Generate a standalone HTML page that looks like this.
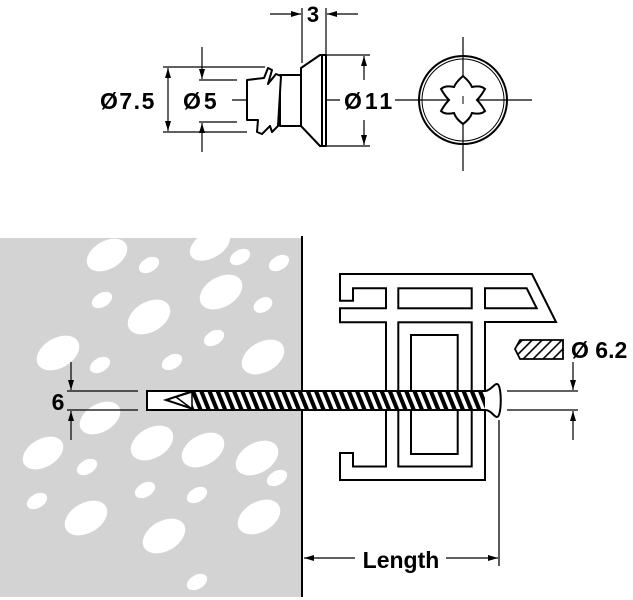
<!DOCTYPE html>
<html><head><meta charset="utf-8"><style>
html,body{margin:0;padding:0;background:#fff;}
svg{display:block;}
text{font-family:"Liberation Sans",Arial,sans-serif;font-weight:bold;fill:#000;}
</style></head><body>
<svg width="633" height="600" viewBox="0 0 633 600" xmlns="http://www.w3.org/2000/svg">
<defs>
<marker id="a" viewBox="0 0 10 6" refX="10" refY="3" markerWidth="10" markerHeight="6" orient="auto" markerUnits="userSpaceOnUse"><path d="M0,0 L10,3 L0,6 Z" fill="#000"/></marker>
<pattern id="th" width="8.2" height="20" patternUnits="userSpaceOnUse" patternTransform="skewX(22)">
<rect width="8.2" height="20" fill="#fff"/><rect x="0" width="4.4" height="20" fill="#000"/></pattern>
<pattern id="h2" width="7" height="7" patternUnits="userSpaceOnUse" patternTransform="rotate(45)">
<rect width="7" height="7" fill="#fff"/><rect width="1.6" height="7" fill="#000"/></pattern>
<clipPath id="wall"><rect x="0" y="238" width="302" height="359"/></clipPath>
</defs>

<rect x="0" y="238" width="302" height="359" fill="#d3d3d3"/>
<g fill="#fff" clip-path="url(#wall)">
<ellipse cx="107" cy="255" rx="22" ry="14" transform="rotate(-30 107 255)"/>
<ellipse cx="149" cy="265" rx="11" ry="7" transform="rotate(-30 149 265)"/>
<ellipse cx="210" cy="245" rx="22" ry="13" transform="rotate(-30 210 245)"/>
<ellipse cx="240" cy="257" rx="11" ry="7" transform="rotate(-30 240 257)"/>
<ellipse cx="279" cy="263" rx="11" ry="7" transform="rotate(-30 279 263)"/>
<ellipse cx="102" cy="300" rx="11" ry="7" transform="rotate(-30 102 300)"/>
<ellipse cx="149" cy="317" rx="23" ry="15" transform="rotate(-30 149 317)"/>
<ellipse cx="221" cy="292" rx="23" ry="15" transform="rotate(-30 221 292)"/>
<ellipse cx="263" cy="305" rx="10" ry="7" transform="rotate(-30 263 305)"/>
<ellipse cx="58" cy="353" rx="23" ry="15" transform="rotate(-30 58 353)"/>
<ellipse cx="100" cy="365" rx="11" ry="7" transform="rotate(-30 100 365)"/>
<ellipse cx="172" cy="362" rx="11" ry="7" transform="rotate(-30 172 362)"/>
<ellipse cx="214" cy="338" rx="11" ry="7" transform="rotate(-30 214 338)"/>
<ellipse cx="263" cy="357" rx="23" ry="15" transform="rotate(-30 263 357)"/>
<ellipse cx="100" cy="418" rx="22" ry="14" transform="rotate(-30 100 418)"/>
<ellipse cx="43" cy="453" rx="22" ry="14" transform="rotate(-30 43 453)"/>
<ellipse cx="87" cy="467" rx="11" ry="7" transform="rotate(-30 87 467)"/>
<ellipse cx="152" cy="443" rx="23" ry="15" transform="rotate(-30 152 443)"/>
<ellipse cx="203" cy="450" rx="23" ry="15" transform="rotate(-30 203 450)"/>
<ellipse cx="257" cy="458" rx="23" ry="15" transform="rotate(-30 257 458)"/>
<ellipse cx="277" cy="478" rx="11" ry="7" transform="rotate(-30 277 478)"/>
<ellipse cx="145" cy="490" rx="11" ry="7" transform="rotate(-30 145 490)"/>
<ellipse cx="197" cy="495" rx="11" ry="7" transform="rotate(-30 197 495)"/>
<ellipse cx="37" cy="501" rx="11" ry="7" transform="rotate(-30 37 501)"/>
<ellipse cx="86" cy="518" rx="23" ry="15" transform="rotate(-30 86 518)"/>
<ellipse cx="164" cy="536" rx="23" ry="15" transform="rotate(-30 164 536)"/>
<ellipse cx="259" cy="517" rx="23" ry="15" transform="rotate(-30 259 517)"/>
<ellipse cx="197" cy="582" rx="11" ry="7" transform="rotate(-30 197 582)"/>
</g>
<line x1="302" y1="236" x2="302" y2="597" stroke="#000" stroke-width="2"/>

<g fill="none" stroke="#000" stroke-width="2" stroke-linejoin="miter">
<path d="M340,274 H532 L556,322 H485 V480 H340 V453 H353 V466.5 H386 V322.3 H340 V308.3 H386 V288.3 H353 V300.7 H340 Z"/>
<rect x="398.3" y="288.3" width="73.4" height="20"/>
<path d="M485,288.3 H526.7 L536.7,308.3 H485 Z"/>
<rect x="398.3" y="322.3" width="73.4" height="144.2"/>
<rect x="411" y="335" width="46.7" height="119"/>
</g>

<rect x="147" y="391" width="340" height="19" fill="#fff" stroke="#000" stroke-width="2"/>
<rect x="190" y="392" width="295" height="17" fill="url(#th)"/>
<path d="M190,392 L166,400 L190,408 Z" fill="#fff" stroke="#000" stroke-width="2"/>
<path d="M176,397 L192,392 L192,409 Z" fill="#fff" stroke="#000" stroke-width="1.5"/>
<path d="M486,391 C492,389 494,384 497,384 C502,384 502,417 497,417 C494,417 492,411 486,410" fill="#fff" stroke="#000" stroke-width="2"/>

<g stroke="#000" stroke-width="1.3" fill="none">
<line x1="499" y1="420" x2="499" y2="566"/>
<line x1="355" y1="558" x2="304" y2="558" marker-end="url(#a)"/>
<line x1="446" y1="558" x2="498" y2="558" marker-end="url(#a)"/>
</g>
<text x="401" y="568" font-size="23" text-anchor="middle">Length</text>

<g stroke="#000" stroke-width="1.2" fill="none">
<line x1="67" y1="391" x2="138" y2="391"/>
<line x1="67" y1="410" x2="138" y2="410"/>
<line x1="71" y1="362" x2="71" y2="390" marker-end="url(#a)"/>
<line x1="71" y1="440" x2="71" y2="411" marker-end="url(#a)"/>
</g>
<text x="58" y="410" font-size="23" text-anchor="middle">6</text>

<path d="M515,349 L520,340 H563 V359 H520 Z" fill="url(#h2)" stroke="#000" stroke-width="1.8"/>
<text x="571" y="358" font-size="23">Ø 6.2</text>
<g stroke="#000" stroke-width="1.2" fill="none">
<line x1="507" y1="391" x2="578" y2="391"/>
<line x1="507" y1="410" x2="578" y2="410"/>
<line x1="573" y1="362" x2="573" y2="390" marker-end="url(#a)"/>
<line x1="573" y1="440" x2="573" y2="411" marker-end="url(#a)"/>
</g>

<g stroke="#000" stroke-width="1.2" fill="none">
<line x1="302" y1="8" x2="302" y2="63"/>
<line x1="326" y1="8" x2="326" y2="55"/>
<line x1="270" y1="14" x2="301" y2="14" marker-end="url(#a)"/>
<line x1="358" y1="14" x2="327" y2="14" marker-end="url(#a)"/>
<line x1="163" y1="67" x2="265" y2="67"/>
<line x1="163" y1="132" x2="247" y2="132"/>
<line x1="168" y1="100" x2="168" y2="68" marker-end="url(#a)"/>
<line x1="168" y1="100" x2="168" y2="131" marker-end="url(#a)"/>
<line x1="199" y1="80" x2="237" y2="80"/>
<line x1="199" y1="122" x2="237" y2="122"/>
<line x1="202" y1="47" x2="202" y2="79" marker-end="url(#a)"/>
<line x1="202" y1="152" x2="202" y2="123" marker-end="url(#a)"/>
<line x1="327" y1="55" x2="370" y2="55"/>
<line x1="327" y1="146" x2="370" y2="146"/>
<line x1="364" y1="80" x2="364" y2="56" marker-end="url(#a)"/>
<line x1="364" y1="120" x2="364" y2="145" marker-end="url(#a)"/>
<line x1="232" y1="100" x2="340" y2="100" stroke-dasharray="20,4,3,4"/>
<line x1="395" y1="100" x2="532" y2="100"/>
<line x1="463" y1="37" x2="463" y2="171"/>
</g>
<g stroke="#000" stroke-width="2" fill="#fff" stroke-linejoin="round">
<path d="M280,75 H301 V126 H280 Z"/>
<path d="M247,80 L264,78 L268,68 L272,70 L268,84 L276,74 L281,76 L278,126 L272,132 L270,126 L262,134 L257,132 L258,120 L247,120 Z"/>
<path d="M301,68 L320,55 L326,55 L326,146 L320,146 L301,126 Z"/>
<line x1="322" y1="56" x2="322" y2="145"/>
</g>
<circle cx="463" cy="100" r="44" fill="none" stroke="#000" stroke-width="2"/>
<circle cx="463" cy="100" r="41" fill="none" stroke="#000" stroke-width="1"/>
<path d="M463,76 Q470,82 472,87 Q481,85 485,89 Q481,96 477,100 Q481,104 485,111 Q481,115 472,113 Q470,119 463,124 Q456,119 454,113 Q445,115 441,111 Q445,104 449,100 Q445,96 441,89 Q445,85 454,87 Q456,82 463,76 Z" fill="#fff" stroke="#000" stroke-width="2"/>
<line x1="463" y1="96" x2="463" y2="104" stroke="#000" stroke-width="1"/>

<text x="313" y="22" font-size="22" text-anchor="middle">3</text>
<text x="100" y="109" font-size="23" letter-spacing="1.5">Ø7.5</text>
<text x="183" y="109" font-size="23" letter-spacing="3">Ø5</text>
<text x="344" y="109" font-size="23" letter-spacing="3">Ø11</text>
</svg>
</body></html>
